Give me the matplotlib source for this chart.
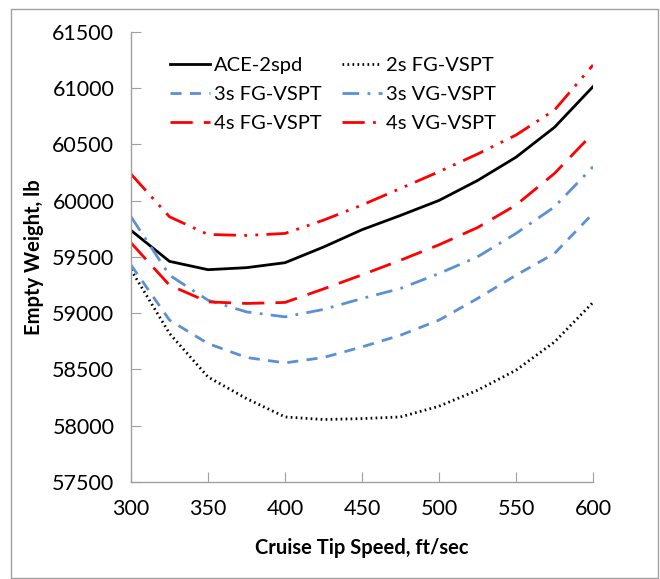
import matplotlib
matplotlib.use("Agg")
import matplotlib.pyplot as plt
from matplotlib.patches import Rectangle

plt.rcParams['font.family'] = ['Lato', 'DejaVu Sans']

# Data
tip_speed = [300, 325, 350, 375, 400, 425, 450, 475, 500, 525, 550, 575, 600]
ace_2spd = [59735, 59460, 59386, 59404, 59448, 59587, 59741, 59868, 60001, 60178, 60385, 60651, 61012]
fg2_vspt = [59385, 58820, 58433, 58241, 58078, 58055, 58063, 58078, 58173, 58315, 58493, 58744, 59095]
fg3_vspt = [59428, 58938, 58730, 58606, 58558, 58606, 58700, 58804, 58938, 59130, 59337, 59530, 59886]
vg3_vspt = [59856, 59337, 59115, 59011, 58967, 59033, 59130, 59219, 59352, 59500, 59708, 59944, 60300]
fg4_vspt = [59624, 59248, 59100, 59086, 59095, 59215, 59340, 59470, 59607, 59760, 59960, 60241, 60597]
vg4_vspt = [60235, 59856, 59699, 59690, 59708, 59826, 59960, 60108, 60256, 60413, 60582, 60804, 61204]

blue = '#5B8FD6'
red = '#FF0000'

fig = plt.figure(figsize=(6.6, 5.79), dpi=100)
ax = fig.add_axes([131 / 660, 1 - 482 / 579, (593 - 131) / 660, (482 - 31.7) / 579])

l1, = ax.plot(tip_speed, ace_2spd, color='black', lw=2, label='ACE-2spd')
l2, = ax.plot(tip_speed, fg2_vspt, color='black', lw=2, linestyle=(0, (0.6, 1.2)), label='2s FG-VSPT')
l3, = ax.plot(tip_speed, fg3_vspt, color=blue, lw=2, linestyle=(0, (4, 3)), label='3s FG-VSPT')
l4, = ax.plot(tip_speed, vg3_vspt, color=blue, lw=2, linestyle=(0, (6, 3, 1, 3)), label='3s VG-VSPT')
l5, = ax.plot(tip_speed, fg4_vspt, color=red, lw=2, linestyle=(0, (8, 4)), label='4s FG-VSPT')
l6, = ax.plot(tip_speed, vg4_vspt, color=red, lw=2, linestyle=(0, (8, 3, 1, 3, 1, 3)), label='4s VG-VSPT')

ax.set_xlim(300, 600)
ax.set_ylim(57500, 61500)
ax.set_xticks(range(300, 601, 50))
ax.set_yticks(range(57500, 61501, 500))
ax.tick_params(direction='in', length=7, color='#A0A0A0', labelsize=15.5, pad=12)
for s in ['top', 'right']:
    ax.spines[s].set_visible(False)
for s in ['left', 'bottom']:
    ax.spines[s].set_color('#A0A0A0')
    ax.spines[s].set_linewidth(1)

ax.set_xlabel('Cruise Tip Speed, ft/sec', fontsize=14.5, fontweight='bold', labelpad=14)
ax.set_ylabel('Empty Weight, lb', fontsize=14.5, fontweight='bold', labelpad=6)

# row-major order like the original legend
handles = [l1, l3, l5, l2, l4, l6]
ax.legend(handles, [h.get_label() for h in handles], ncol=2, frameon=False, fontsize=14.5,
          loc='upper left', bbox_to_anchor=(0.045, 0.985),
          handlelength=2.0, handletextpad=0.2, columnspacing=1.0, labelspacing=0.6)

fig.add_artist(Rectangle((11 / 660, 0.002), 647 / 660, 1 - 9 / 579 - 0.002, transform=fig.transFigure,
                         fill=False, edgecolor='#A0A0A0', lw=1))

fig.savefig('out.png', dpi=100)
